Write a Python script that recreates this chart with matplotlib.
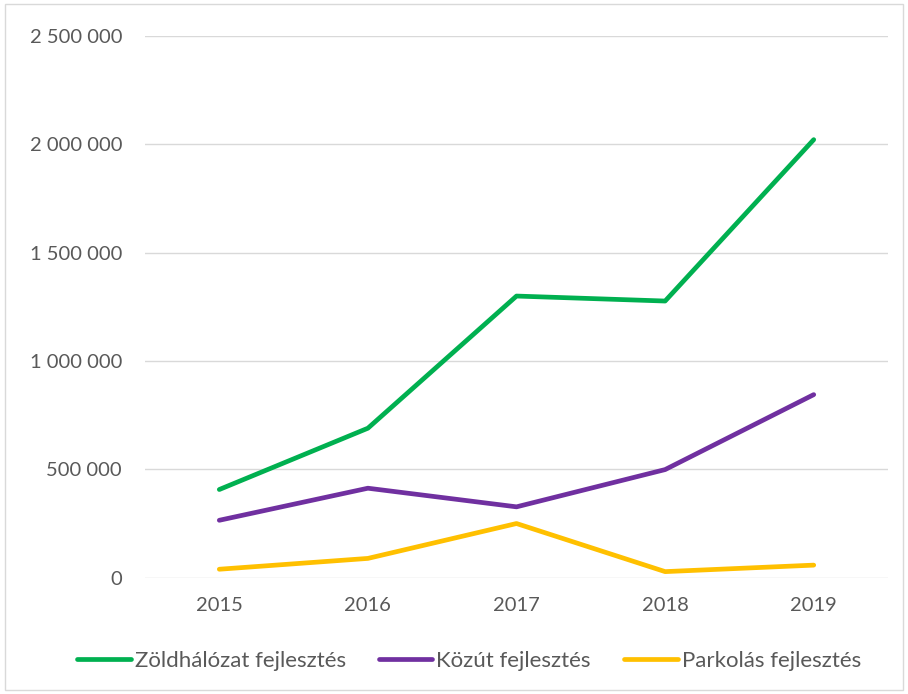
import matplotlib
matplotlib.use("Agg")
import matplotlib.pyplot as plt
from matplotlib.patches import Rectangle
from matplotlib.ticker import FuncFormatter

years = ["2015", "2016", "2017", "2018", "2019"]
zold = [407000, 690000, 1300000, 1277000, 2022000]
kozut = [265000, 413000, 327000, 499000, 845000]
parkolas = [39000, 89000, 250000, 28000, 58000]
series_names = ["Zöldhálózat fejlesztés", "Közút fejlesztés", "Parkolás fejlesztés"]
colors = ["#00B050", "#7030A0", "#FFC000"]

plt.rcParams['font.family'] = ['Lato', 'DejaVu Sans']
txt = "#595959"

fig = plt.figure(figsize=(9.08, 6.94), dpi=100)
ax = fig.add_axes([0.1597, 0.1676, 0.978 - 0.1597, 0.948 - 0.1676])

x = list(range(len(years)))
for vals, name, c in zip([zold, kozut, parkolas], series_names, colors):
    ax.plot(x, vals, color=c, lw=3.4, label=name, solid_capstyle='round', solid_joinstyle='round', zorder=3)

ax.set_xlim(-0.5, len(years) - 0.5)
ax.set_ylim(0, 2500000)
ax.set_yticks([0, 500000, 1000000, 1500000, 2000000, 2500000])
ax.yaxis.set_major_formatter(FuncFormatter(lambda v, p: f"{int(v):,}".replace(",", " ")))
ax.set_xticks(x)
ax.set_xticklabels(years)
ax.grid(axis='y', color='#d9d9d9', lw=1.0, zorder=0)
for s in ax.spines.values():
    s.set_visible(False)
ax.tick_params(axis='both', length=0, labelsize=14.5, colors=txt)
ax.tick_params(axis='y', pad=16.5)
ax.tick_params(axis='x', pad=14)

leg = fig.legend(loc='center', bbox_to_anchor=(0.5165, 1 - 661 / 694), ncol=3, frameon=False,
                 fontsize=16, handlelength=2.4, handletextpad=0.18, columnspacing=1.5)
for t in leg.get_texts():
    t.set_color(txt)

fig.patches.append(Rectangle((5 / 908, 4 / 694), 898 / 908, 686 / 694, transform=fig.transFigure,
                             fill=False, edgecolor='#d9d9d9', lw=1.0))

fig.savefig("out.png", dpi=100, facecolor="white")
